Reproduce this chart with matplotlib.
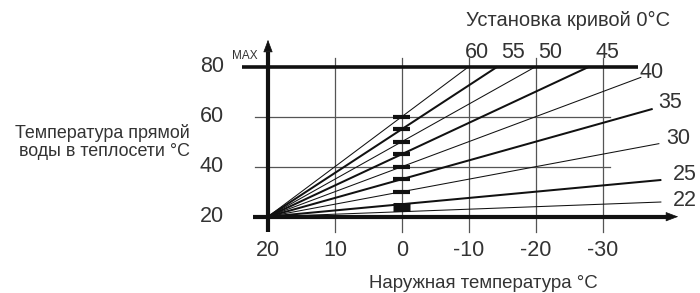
import matplotlib
matplotlib.use("Agg")
import matplotlib.pyplot as plt

plt.rcParams['font.family'] = ['Liberation Sans', 'DejaVu Sans']

# Data
curve_settings = [22, 25, 30, 35, 40, 45, 50, 55, 60]   # flow temp at 0°C outside
curve_end_temp = [-38.8, -38.8, -38.5, -37.5, -35.8, -28.0, -20.0, -14.3, -10.0]
curve_thick = [False, True, False, True, False, True, False, True, False]
x_ticks = [20, 10, 0, -10, -20, -30]
y_ticks = [80, 60, 40, 20]
marker_values = [60, 55, 50, 45, 40, 35, 30]
block_range = (22, 25.5)
base_point = (20, 20)
max_flow = 80

# pixel->data helpers (figure 700x293)
PX_X0, PX_SCALE_X = 268.0, 6.69   # T=20 at px 268
PX_Y0, PX_SCALE_Y = 216.7, 2.5    # V=20 at px 216.7
def tx(px):
    return 20 - (px - PX_X0) / PX_SCALE_X
def vy(py):
    return 20 + (PX_Y0 - py) / PX_SCALE_Y

fig = plt.figure(figsize=(7.0, 2.93), dpi=100)
ax = fig.add_axes([0, 0, 1, 1])
ax.set_xlim(tx(0), tx(700))
ax.set_ylim(vy(293), vy(0))
ax.axis('off')

txt = '#333333'
lc = '#111111'
gc = '#555555'

# vertical grid lines
for t in x_ticks[1:]:
    ax.plot([t, t], [vy(232), vy(58)], color=gc, lw=0.9, zorder=1)
# horizontal grid lines
for v in [60, 40]:
    ax.plot([tx(255), tx(610)], [v, v], color=gc, lw=0.9, zorder=1)

# heating curves
for s, te, thick in zip(curve_settings, curve_end_temp, curve_thick):
    x0, y0 = base_point
    y_end = y0 + (s - y0) * (x0 - te) / x0
    ax.plot([x0, te], [y0, y_end], color=lc, lw=1.45 if thick else 0.75,
            solid_capstyle='butt', zorder=3)

# MAX line
ax.plot([tx(242), tx(638)], [max_flow, max_flow], color=lc, lw=2.6,
        solid_capstyle='butt', zorder=4)
# x axis with arrow
ax.plot([tx(253), tx(668)], [20, 20], color=lc, lw=3.0, solid_capstyle='butt', zorder=4)
ax.annotate('', xy=(tx(681), 20), xytext=(tx(662), 20),
            arrowprops=dict(arrowstyle='-|>,head_length=0.8,head_width=0.3', color=lc, lw=0.5),
            zorder=5)
# y axis with arrow
ax.plot([20, 20], [vy(232), vy(52)], color=lc, lw=3.0, solid_capstyle='butt', zorder=4)
ax.annotate('', xy=(20, vy(37)), xytext=(20, vy(54)),
            arrowprops=dict(arrowstyle='-|>,head_length=0.8,head_width=0.3', color=lc, lw=0.5),
            zorder=5)

# markers at 0°C
for v in marker_values:
    ax.plot([tx(393), tx(410)], [v, v], color=lc, lw=3.0, solid_capstyle='butt', zorder=6)
ax.plot([tx(393), tx(410)], [sum(block_range) / 2] * 2, color=lc, lw=6.5,
        solid_capstyle='butt', zorder=6)

# tick labels
FS = 15.5
for v in y_ticks:
    ax.text(tx(224), v, str(v), ha='right', va='center', fontsize=FS, color=txt)
for t in x_ticks:
    ax.text(t, vy(251), str(t), ha='center', va='center', fontsize=FS, color=txt)
ax.text(tx(245), vy(56), 'MAX', ha='center', va='center', fontsize=8.5, color=txt)

# curve labels
top_labels = {60: 477, 55: 513, 50: 550, 45: 607}
for s, px in top_labels.items():
    ax.text(tx(px), vy(52), str(s), ha='center', va='center', fontsize=FS, color=txt)
side_labels = {40: (652, 72), 35: (670, 102), 30: (678, 139), 25: (685, 175), 22: (685, 200)}
for s, (px, py) in side_labels.items():
    ax.text(tx(px), vy(py), str(s), ha='center', va='center', fontsize=FS, color=txt)

ax.text(tx(568), vy(20), 'Установка кривой 0°C', ha='center', va='center',
        fontsize=14.5, color=txt)
ax.text(tx(483), vy(284), 'Наружная температура °C', ha='center', va='center',
        fontsize=13.4, color=txt)
ax.text(tx(190), vy(142), 'Температура прямой\nводы в теплосети °C', ha='right',
        va='center', fontsize=12.9, color=txt, linespacing=1.15)

fig.savefig('out.png', dpi=100)
